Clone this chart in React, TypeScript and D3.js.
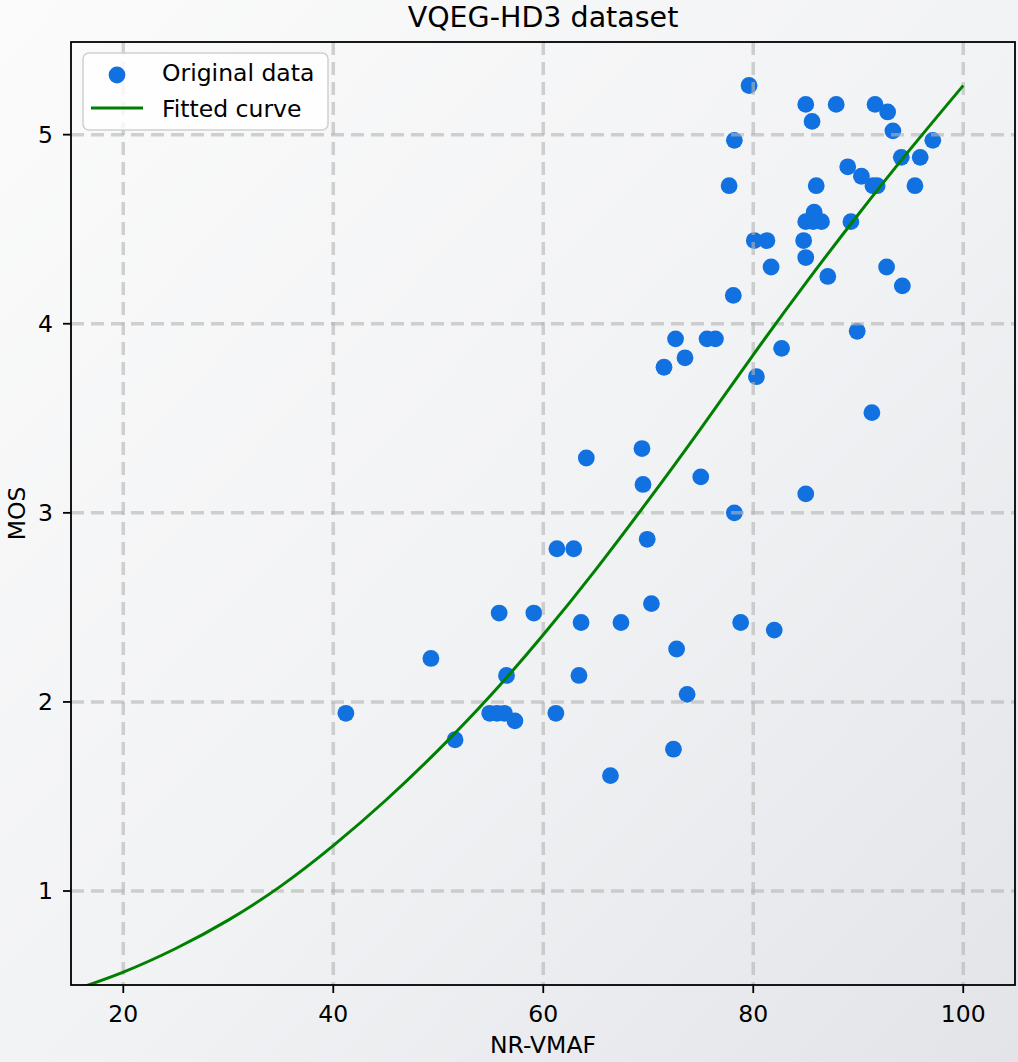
import React from "react";
import * as d3 from "d3";

const width = 1018;
const height = 1062;

// scatter: NR-VMAF vs MOS
const vmaf = [
  41.2, 49.3, 51.6, 54.9, 55.6, 56.3, 57.3, 55.8, 56.5, 59.1, 61.2, 61.3, 62.9, 64.1, 63.4, 63.6,
  66.4, 67.4, 69.4, 69.5, 69.9, 70.3, 71.5, 72.6, 73.5, 72.7, 72.4, 73.7, 75.0, 75.6, 76.4, 77.7,
  78.1, 78.2, 78.2, 78.8, 79.6, 80.1, 80.3, 81.3, 81.7, 82.0, 82.7, 84.8, 85.0, 85.0, 85.7, 86.5,
  85.0, 85.0, 85.6, 85.8, 86.0, 87.1, 87.9, 89.0, 89.3, 89.9, 90.3, 91.3, 91.6, 91.4, 91.8, 92.7,
  92.8, 93.3, 94.1, 94.2, 95.4, 95.9, 97.1,
];
const mos = [
  1.94, 2.23, 1.8, 1.94, 1.94, 1.94, 1.9, 2.47, 2.14, 2.47, 1.94, 2.81, 2.81, 3.29, 2.14, 2.42,
  1.61, 2.42, 3.34, 3.15, 2.86, 2.52, 3.77, 3.92, 3.82, 2.28, 1.75, 2.04, 3.19, 3.92, 3.92, 4.73,
  4.15, 4.97, 3.0, 2.42, 5.26, 4.44, 3.72, 4.44, 4.3, 2.38, 3.87, 4.44, 5.16, 4.54, 4.54, 4.54,
  4.35, 3.1, 5.07, 4.59, 4.73, 4.25, 5.16, 4.83, 4.54, 3.96, 4.78, 3.53, 5.16, 4.73, 4.73, 4.3,
  5.12, 5.02, 4.88, 4.2, 4.73, 4.88, 4.97,
];

// fitted curve
const fitX = [16, 20, 25, 30, 35, 40, 45, 50, 55, 60, 65, 70, 75, 80, 85, 90, 95, 100];
const fitY = [0.49, 0.571, 0.696, 0.846, 1.026, 1.24, 1.48, 1.745, 2.035, 2.355, 2.7, 3.066, 3.446, 3.836, 4.215, 4.578, 4.926, 5.26];

const xTicks = [20, 40, 60, 80, 100];
const yTicks = [1, 2, 3, 4, 5];

const legendItems = ["Original data", "Fitted curve"];

export default function App() {
  const left = 71;
  const right = 1015;
  const top = 42;
  const bottom = 985;
  const font = "DejaVu Sans";
  const fs = 23.5;

  const x = d3.scaleLinear().domain([15.02, 104.93]).range([left, right]);
  const y = d3.scaleLinear().domain([0.503, 5.49]).range([bottom, top]);

  const line = d3
    .line<number>()
    .x((d, i) => x(fitX[i]))
    .y((d) => y(d))
    .curve(d3.curveNatural);

  const gridStyle = { stroke: "#b4b4b4", strokeOpacity: 0.6, strokeWidth: 3.5, strokeDasharray: "13,7" };

  return (
    <div>
      <style>{"body{margin:0}"}</style>
      <svg width={width} height={height} style={{ display: "block" }} fontFamily={font}>
        <defs>
          <linearGradient id="bg" x1="0" y1="0" x2="1" y2="1">
            <stop offset="0" stopColor="#fbfbfb" />
            <stop offset="0.55" stopColor="#f1f2f4" />
            <stop offset="1" stopColor="#e2e4e8" />
          </linearGradient>
          <clipPath id="plot">
            <rect x={left} y={top} width={right - left} height={bottom - top} />
          </clipPath>
        </defs>
        <rect width={width} height={height} fill="url(#bg)" />

        {/* points */}
        <g clipPath="url(#plot)">
          {vmaf.map((v, i) => (
            <circle key={i} cx={x(v)} cy={y(mos[i])} r={8.4} fill="#1271e1" />
          ))}
        </g>

        {/* grid on top of points */}
        <g>
          {xTicks.map((t) => (
            <line key={"gx" + t} x1={x(t)} x2={x(t)} y1={top} y2={bottom} {...gridStyle} />
          ))}
          {yTicks.map((t) => (
            <line key={"gy" + t} x1={left} x2={right} y1={y(t)} y2={y(t)} {...gridStyle} />
          ))}
        </g>

        {/* fitted curve */}
        <path d={line(fitY) || ""} fill="none" stroke="#008000" strokeWidth={3} clipPath="url(#plot)" />

        {/* frame */}
        <rect x={left} y={top} width={right - left} height={bottom - top} fill="none" stroke="#000" strokeWidth={1.8} />

        {/* x axis */}
        {xTicks.map((t) => (
          <g key={"xt" + t}>
            <line x1={x(t)} x2={x(t)} y1={bottom} y2={bottom + 8} stroke="#000" strokeWidth={1.8} />
            <text x={x(t)} y={1022} textAnchor="middle" fontSize={fs} fill="#000">
              {t}
            </text>
          </g>
        ))}
        <text x={(left + right) / 2} y={1053} textAnchor="middle" fontSize={fs} fill="#000">
          NR-VMAF
        </text>

        {/* y axis */}
        {yTicks.map((t) => (
          <g key={"yt" + t}>
            <line x1={left - 8} x2={left} y1={y(t)} y2={y(t)} stroke="#000" strokeWidth={1.8} />
            <text x={53} y={y(t)} dy="0.36em" textAnchor="end" fontSize={fs} fill="#000">
              {t}
            </text>
          </g>
        ))}
        <text
          transform={`translate(25,${(top + bottom) / 2}) rotate(-90)`}
          textAnchor="middle"
          fontSize={fs}
          fill="#000"
        >
          MOS
        </text>

        {/* title */}
        <text x={(left + right) / 2} y={27} textAnchor="middle" fontSize={28.5} fill="#000">
          VQEG-HD3 dataset
        </text>

        {/* legend */}
        <g>
          <rect x={83} y={53} width={245} height={77} rx={6} fill="#fff" fillOpacity={0.8} stroke="#d0d0d0" strokeWidth={1.5} />
          <circle cx={117} cy={75} r={8.4} fill="#1271e1" />
          <line x1={91} x2={143} y1={108} y2={108} stroke="#008000" strokeWidth={3} />
          {legendItems.map((s, i) => (
            <text key={s} x={162} y={81 + i * 36} fontSize={fs} fill="#000">
              {s}
            </text>
          ))}
        </g>
      </svg>
    </div>
  );
}
